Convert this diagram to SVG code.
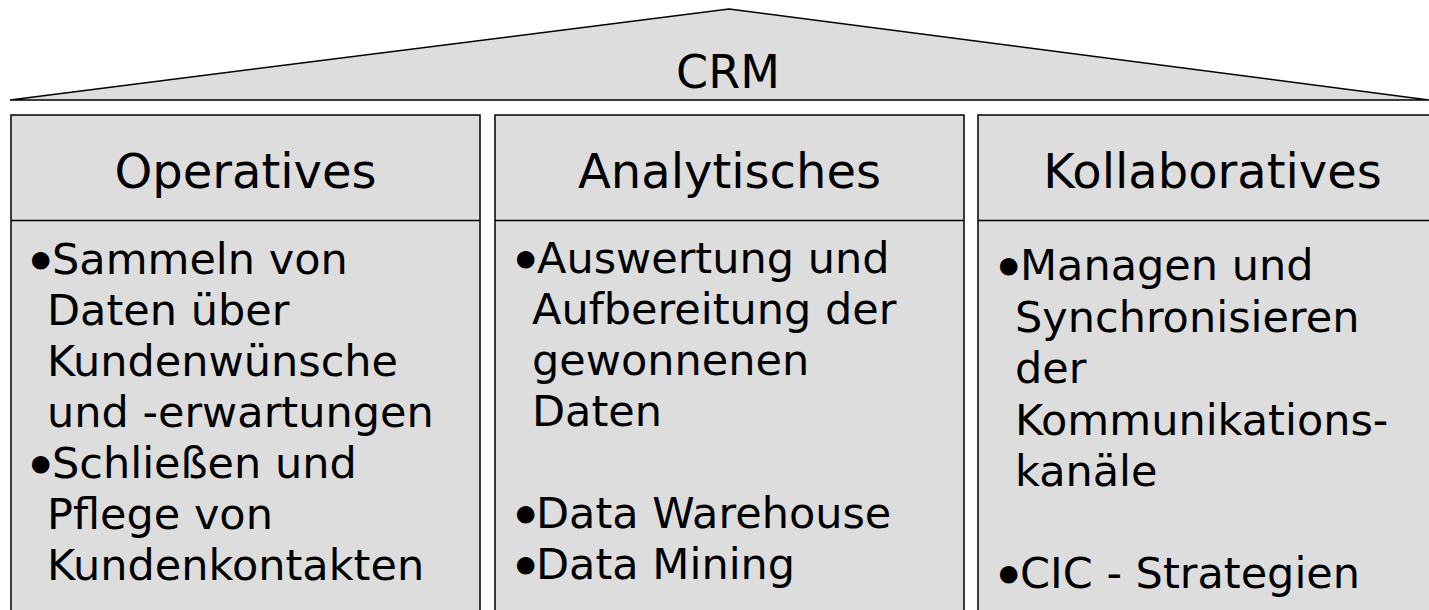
<svg xmlns="http://www.w3.org/2000/svg" width="1429" height="610" viewBox="0 0 1429 610">
<style>
.shape{fill:#dddddd;stroke:#000;stroke-width:1.5}
.t{font-family:"DejaVu Sans",Verdana,sans-serif;fill:#000}
.title{font-size:46px;text-anchor:middle}
.head{font-size:48px;text-anchor:middle}
.body{font-size:43px}
.b{stroke:#000;stroke-width:5;stroke-linejoin:round;letter-spacing:-4px}
</style>
<rect width="1429" height="610" fill="#fff"/>
<g id="roof">
<polygon class="shape" points="10,100 729,9 1429,100"/>
<text class="t title" x="728" y="88">CRM</text>
</g>
<g id="operatives">
<rect class="shape" x="11" y="115" width="469" height="520"/>
<line class="shape" x1="11" y1="220.5" x2="480" y2="220.5"/>
<text class="t head" x="245.5" y="188">Operatives</text>
<text class="t body b" x="28" y="277">•</text>
<text class="t body" x="52" y="274">Sammeln von</text>
<text class="t body" x="47" y="325">Daten über</text>
<text class="t body" x="47" y="376">Kundenwünsche</text>
<text class="t body" x="47" y="427">und -erwartungen</text>
<text class="t body b" x="28" y="481">•</text>
<text class="t body" x="52" y="478">Schließen und</text>
<text class="t body" x="47" y="529">Pflege von</text>
<text class="t body" x="47" y="580">Kundenkontakten</text>
</g>
<g id="analytisches">
<rect class="shape" x="495" y="115" width="469" height="520"/>
<line class="shape" x1="495" y1="220.5" x2="964" y2="220.5"/>
<text class="t head" x="729.5" y="188">Analytisches</text>
<text class="t body b" x="513" y="276">•</text>
<text class="t body" x="537" y="273">Auswertung und</text>
<text class="t body" x="532" y="324">Aufbereitung der</text>
<text class="t body" x="532" y="375">gewonnenen</text>
<text class="t body" x="532" y="426">Daten</text>
<text class="t body b" x="513" y="531">•</text>
<text class="t body" x="536" y="528">Data Warehouse</text>
<text class="t body b" x="513" y="582">•</text>
<text class="t body" x="536" y="579">Data Mining</text>
</g>
<g id="kollaboratives">
<rect class="shape" x="978" y="115" width="469" height="520"/>
<line class="shape" x1="978" y1="220.5" x2="1447" y2="220.5"/>
<text class="t head" x="1212.5" y="188">Kollaboratives</text>
<text class="t body b" x="996" y="283">•</text>
<text class="t body" x="1020" y="280">Managen und</text>
<text class="t body" x="1015" y="332">Synchronisieren</text>
<text class="t body" x="1015" y="383">der</text>
<text class="t body" x="1015" y="435">Kommunikations-</text>
<text class="t body" x="1015" y="486">kanäle</text>
<text class="t body b" x="996" y="591">•</text>
<text class="t body" x="1020" y="588">CIC - Strategien</text>
</g>
<g id="connectors"></g>
</svg>
